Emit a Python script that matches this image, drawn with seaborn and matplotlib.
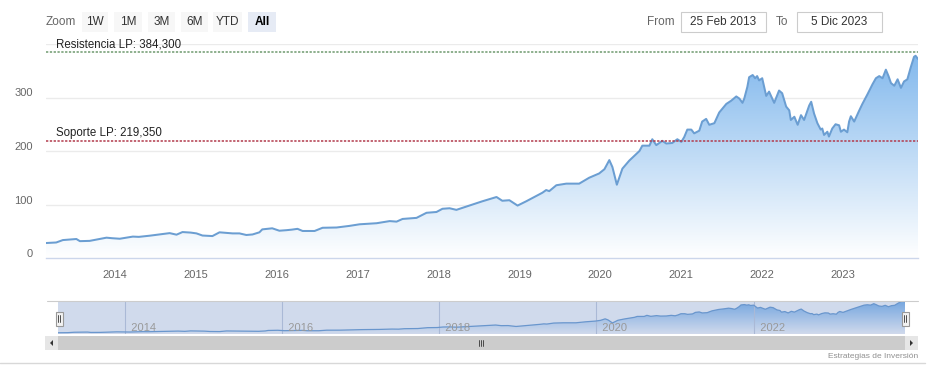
import numpy as np
import pandas as pd
import matplotlib
matplotlib.use("Agg")
import matplotlib.pyplot as plt
import matplotlib.dates as mdates
from matplotlib import font_manager
from matplotlib.patches import Rectangle, PathPatch, Polygon
from matplotlib.lines import Line2D
from matplotlib.transforms import ScaledTranslation
from matplotlib.colors import to_rgb
import seaborn as sns

# ---------------- data ----------------
dates = [
    "2013-02-25", "2013-03-20", "2013-04-12", "2013-05-12", "2013-06-26", "2013-07-12",
    "2013-07-28", "2013-09-10", "2013-10-25", "2013-11-25", "2013-12-20", "2014-01-24",
    "2014-03-24", "2014-04-20", "2014-06-08", "2014-07-23", "2014-09-06", "2014-10-07",
    "2014-11-03", "2014-12-10", "2015-01-05", "2015-02-01", "2015-03-18", "2015-04-19",
    "2015-05-20", "2015-06-17", "2015-07-18", "2015-08-18", "2015-09-15", "2015-10-16",
    "2015-10-29", "2015-12-13", "2016-01-14", "2016-02-15", "2016-03-10", "2016-04-05",
    "2016-04-28", "2016-06-21", "2016-07-27", "2016-09-28", "2016-11-25", "2017-01-10",
    "2017-03-28", "2017-05-26", "2017-06-26", "2017-07-23", "2017-09-24", "2017-11-08",
    "2017-12-23", "2018-01-19", "2018-02-20", "2018-03-23", "2018-05-21", "2018-07-18",
    "2018-09-20", "2018-10-16", "2018-11-17", "2018-12-24", "2019-02-01", "2019-03-18",
    "2019-04-15", "2019-05-02", "2019-05-16", "2019-06-17", "2019-08-01", "2019-09-28",
    "2019-11-12", "2019-12-27", "2020-01-20", "2020-02-11", "2020-02-25", "2020-03-16",
    "2020-04-10", "2020-05-11", "2020-06-26", "2020-07-09", "2020-08-10", "2020-08-23",
    "2020-09-10", "2020-10-07", "2020-10-25", "2020-11-21", "2020-12-14", "2021-01-01",
    "2021-01-14", "2021-01-28", "2021-02-15", "2021-02-28", "2021-03-23", "2021-04-05",
    "2021-04-23", "2021-05-07", "2021-05-30", "2021-06-21", "2021-07-23", "2021-08-14",
    "2021-09-06", "2021-09-20", "2021-10-04", "2021-10-12", "2021-10-26", "2021-11-03",
    "2021-11-19", "2021-11-30", "2021-12-09", "2021-12-18", "2022-01-01", "2022-01-19",
    "2022-02-01", "2022-02-24", "2022-03-18", "2022-04-01", "2022-04-19", "2022-05-03",
    "2022-05-10", "2022-05-26", "2022-06-10", "2022-06-25", "2022-07-09", "2022-08-01",
    "2022-08-10", "2022-08-23", "2022-09-07", "2022-09-22", "2022-09-29", "2022-10-07",
    "2022-10-22", "2022-10-29", "2022-11-13", "2022-11-28", "2022-12-14", "2022-12-22",
    "2023-01-05", "2023-01-20", "2023-01-28", "2023-02-05", "2023-02-20", "2023-03-14",
    "2023-03-29", "2023-04-21", "2023-05-14", "2023-05-29", "2023-06-13", "2023-06-28",
    "2023-07-13", "2023-07-25", "2023-08-05", "2023-08-20", "2023-09-04", "2023-09-19",
    "2023-10-03", "2023-10-18", "2023-11-02", "2023-11-17", "2023-11-24", "2023-12-05",
]
prices = [
    28, 28.5, 29, 33.5, 35, 35.5,
    31.5, 32, 35.5, 38, 37, 36,
    40, 39.5, 41.7, 44, 46.5, 43.6,
    48.5, 47.5, 46, 42, 41, 48,
    47, 46, 46, 43, 44, 48,
    53.5, 55.5, 51, 52, 53, 54.5,
    50.5, 50.5, 56.5, 57, 60, 63,
    65, 69, 68, 73, 75, 84.5,
    86, 92, 93, 90, 98, 106,
    114, 107, 108, 98, 106, 116,
    122, 127, 125, 136, 139, 139,
    150, 158, 166, 183, 170, 137,
    167, 182, 200, 210, 210, 222,
    211, 219, 214, 215, 222, 217,
    226, 240, 240, 233, 238, 255,
    260, 249, 252, 272, 288, 294,
    302, 298, 290, 298, 320, 338,
    342, 336, 340, 332, 336, 303,
    311, 290, 313, 308, 283, 276,
    258, 264, 249, 267, 258, 285,
    292, 270, 252, 240, 242, 230,
    236, 227, 242, 250, 248, 236,
    240, 235, 255, 265, 255, 275,
    288, 306, 325, 336, 340, 336,
    352, 340, 327, 322, 334, 318,
    330, 334, 356, 376, 378, 372,
]
resistance = 384.3
support = 219.35
resistance_label = "Resistencia LP: 384,300"
support_label = "Soporte LP: 219,350"
y_ticks = [0, 100, 200, 300, 400]
y_tick_labels = ["0", "100", "200", "300", ""]
year_ticks = list(range(2014, 2024))
nav_years = [2014, 2016, 2018, 2020, 2022]
zoom_buttons = ["1W", "1M", "3M", "6M", "YTD", "All"]
from_date = "25 Feb 2013"
to_date = "5 Dic 2023"
credit = "Estrategias de Inversión"

df = pd.DataFrame({"date": pd.to_datetime(dates), "price": prices})

# ---------------- style ----------------
sns.set_style("white")
names = {f.name for f in font_manager.fontManager.ttflist}
narrow = "Liberation Sans Narrow" if "Liberation Sans Narrow" in names else "Liberation Sans"
plt.rcParams["font.family"] = ["Liberation Sans", "DejaVu Sans"]

W, H = 931, 378
fig = plt.figure(figsize=(W / 100, H / 100), dpi=100)
fig.patch.set_facecolor("white")


def fx(x):
    return x / W


def fy(y):
    return 1 - y / H


def rect_px(x0, y0, x1, y1, **kw):
    r = Rectangle((fx(x0), fy(y1)), fx(x1) - fx(x0), fy(y0) - fy(y1),
                  transform=fig.transFigure, **kw)
    fig.patches.append(r)
    return r


line_color = "#6b9ed2"
fill_top = np.array(to_rgb("#7cb5ec"))
fill_bot = np.array([1.0, 1.0, 1.0])

# ---------------- main chart ----------------
ax = fig.add_axes([fx(46), fy(258), fx(918) - fx(46), fy(44) - fy(258)])
x0 = df["date"].iloc[0]
x1 = df["date"].iloc[-1]
ax.set_xlim(x0, x1)
ax.set_ylim(0, 400)

poly = ax.fill_between(df["date"], df["price"], 0, color="none", lw=0)
grad = np.linspace(0, 1, 256).reshape(-1, 1, 1)
img = fill_bot + (fill_top - fill_bot) * grad
im = ax.imshow(img, extent=[mdates.date2num(x0), mdates.date2num(x1), 0, 400],
               origin="lower", aspect="auto", zorder=1)
clip = PathPatch(poly.get_paths()[0], transform=ax.transData, facecolor="none", edgecolor="none")
ax.add_patch(clip)
im.set_clip_path(clip)

sns.lineplot(data=df, x="date", y="price", ax=ax, color=line_color, lw=1.45, zorder=3)

for yv in y_ticks[1:]:
    ax.axhline(yv, color="#ebebeb", lw=1, zorder=0)

ax.axhline(resistance, color="#6f9a6f", lw=1.1, ls=(0, (1.5, 1.0)), zorder=4)
ax.axhline(support, color="#b23a4c", lw=1.1, ls=(0, (1.5, 1.0)), zorder=4)
ax.annotate(resistance_label, xy=(0, resistance), xycoords=ax.get_yaxis_transform(),
            xytext=(7.2, 1.5), textcoords="offset points", va="bottom", ha="left",
            fontsize=8.3, color="#222222", family=[narrow, "DejaVu Sans"], zorder=5)
ax.annotate(support_label, xy=(0, support), xycoords=ax.get_yaxis_transform(),
            xytext=(7.2, 1.5), textcoords="offset points", va="bottom", ha="left",
            fontsize=8.3, color="#222222", family=[narrow, "DejaVu Sans"], zorder=5)

for s in ["top", "right", "left"]:
    ax.spines[s].set_visible(False)
ax.spines["bottom"].set_color("#ccd6eb")
ax.spines["bottom"].set_linewidth(1)

ax.set_yticks(y_ticks)
ax.set_yticklabels(y_tick_labels)
ax.tick_params(axis="y", length=0, pad=9.5, labelsize=8, labelcolor="#666666")
for lab in ax.get_yticklabels():
    lab.set_transform(lab.get_transform() + ScaledTranslation(0, 5 / 100, fig.dpi_scale_trans))

xt = [pd.Timestamp(f"{y}-01-01") for y in year_ticks]
ax.set_xticks(xt)
ax.set_xticklabels([str(y) for y in year_ticks])
ax.tick_params(axis="x", length=7, width=1, color="#ccd6eb", pad=1.5, labelsize=8,
               labelcolor="#666666", direction="out")
for lab in ax.get_xticklabels():
    lab.set_family([narrow, "DejaVu Sans"])
ax.set_xlabel("")
ax.set_ylabel("")
ax.set_facecolor("white")

# ---------------- top controls ----------------
fig.text(fx(61), fy(22), "Zoom", ha="center", va="center", fontsize=8.5, color="#666666")
btn_pos = [(82, 108), (114, 142), (148, 175), (181, 208), (213, 242), (248, 276)]
for lbl, (a, b) in zip(zoom_buttons, btn_pos):
    sel = lbl == "All"
    rect_px(a, 12, b, 32, facecolor="#e6ebf5" if sel else "#f7f7f7", edgecolor="none")
    fig.text(fx((a + b) / 2), fy(22), lbl, ha="center", va="center", fontsize=8.5,
             color="#000000" if sel else "#333333", fontweight="bold" if sel else "normal")

fig.text(fx(661), fy(22), "From", ha="center", va="center", fontsize=8.5, color="#666666")
rect_px(681, 12, 766, 32, facecolor="white", edgecolor="#cccccc", lw=0.8)
fig.text(fx(723.5), fy(22), from_date, ha="center", va="center", fontsize=8.5, color="#333333")
fig.text(fx(782), fy(22), "To", ha="center", va="center", fontsize=8.5, color="#666666")
rect_px(797, 12, 882, 32, facecolor="white", edgecolor="#cccccc", lw=0.8)
fig.text(fx(839.5), fy(22), to_date, ha="center", va="center", fontsize=8.5, color="#333333")

# ---------------- navigator ----------------
nav = fig.add_axes([fx(58), fy(334), fx(905) - fx(58), fy(301) - fy(334)])
nav.set_xlim(x0, x1)
nav.set_ylim(14, 382)
npoly = nav.fill_between(df["date"], df["price"], 14, color="none", lw=0)
nimg = fill_bot + (fill_top - fill_bot) * grad
nim = nav.imshow(nimg, extent=[mdates.date2num(x0), mdates.date2num(x1), 14, 382],
                 origin="lower", aspect="auto", zorder=1)
nclip = PathPatch(npoly.get_paths()[0], transform=nav.transData, facecolor="none", edgecolor="none")
nav.add_patch(nclip)
nim.set_clip_path(nclip)
sns.lineplot(data=df, x="date", y="price", ax=nav, color=line_color, lw=0.9, zorder=3)
for yy in nav_years:
    nav.axvline(pd.Timestamp(f"{yy}-01-01"), color="#c8d0e0", lw=0.8, zorder=2)
    nav.text(pd.Timestamp(f"{yy}-01-01"), 0.02, f"  {yy}", transform=nav.get_xaxis_transform(),
             ha="left", va="bottom", fontsize=8, color="#999999", zorder=6,
             family=[narrow, "DejaVu Sans"])
nav.add_patch(Rectangle((0, 0), 1, 1, transform=nav.transAxes,
                        facecolor=(102 / 255, 133 / 255, 194 / 255, 0.3), edgecolor="none", zorder=5))
nav.set_xticks([])
nav.set_yticks([])
nav.set_xlabel("")
nav.set_ylabel("")
for s in nav.spines.values():
    s.set_visible(False)

# outline line at navigator top
fig.lines.append(Line2D([fx(47), fx(918)], [fy(301), fy(301)], transform=fig.transFigure,
                        color="#cccccc", lw=0.8))

# handles
for hx in (59, 905):
    rect_px(hx - 3.5, 311.5, hx + 3.5, 326, facecolor="#f2f2f2", edgecolor="#999999", lw=0.8, zorder=8)
    for dx in (-1, 1):
        fig.lines.append(Line2D([fx(hx + dx), fx(hx + dx)], [fy(315), fy(322)], transform=fig.transFigure,
                                color="#333333", lw=0.6, zorder=9))

# scrollbar
rect_px(45, 336, 918, 350, facecolor="#f2f2f2", edgecolor="none")
rect_px(58, 336, 905, 350, facecolor="#cccccc", edgecolor="none")
rect_px(45, 336, 58, 350, facecolor="#e6e6e6", edgecolor="none")
rect_px(905, 336, 918, 350, facecolor="#e6e6e6", edgecolor="none")
fig.patches.append(Polygon([(fx(53), fy(340)), (fx(53), fy(346)), (fx(50), fy(343))],
                           closed=True, transform=fig.transFigure, facecolor="#333333", edgecolor="none"))
fig.patches.append(Polygon([(fx(910), fy(340)), (fx(910), fy(346)), (fx(913), fy(343))],
                           closed=True, transform=fig.transFigure, facecolor="#333333", edgecolor="none"))
for dx in (-2, 0, 2):
    fig.lines.append(Line2D([fx(481 + dx), fx(481 + dx)], [fy(340), fy(346)], transform=fig.transFigure,
                            color="#333333", lw=0.6))

fig.text(fx(918), fy(356), credit, ha="right", va="center", fontsize=6, color="#909090",
         family=[narrow, "DejaVu Sans"])
fig.lines.append(Line2D([fx(0), fx(925)], [fy(363), fy(363)], transform=fig.transFigure,
                        color="#d8d8d8", lw=1))

fig.savefig("out.png", dpi=100, facecolor="white")
